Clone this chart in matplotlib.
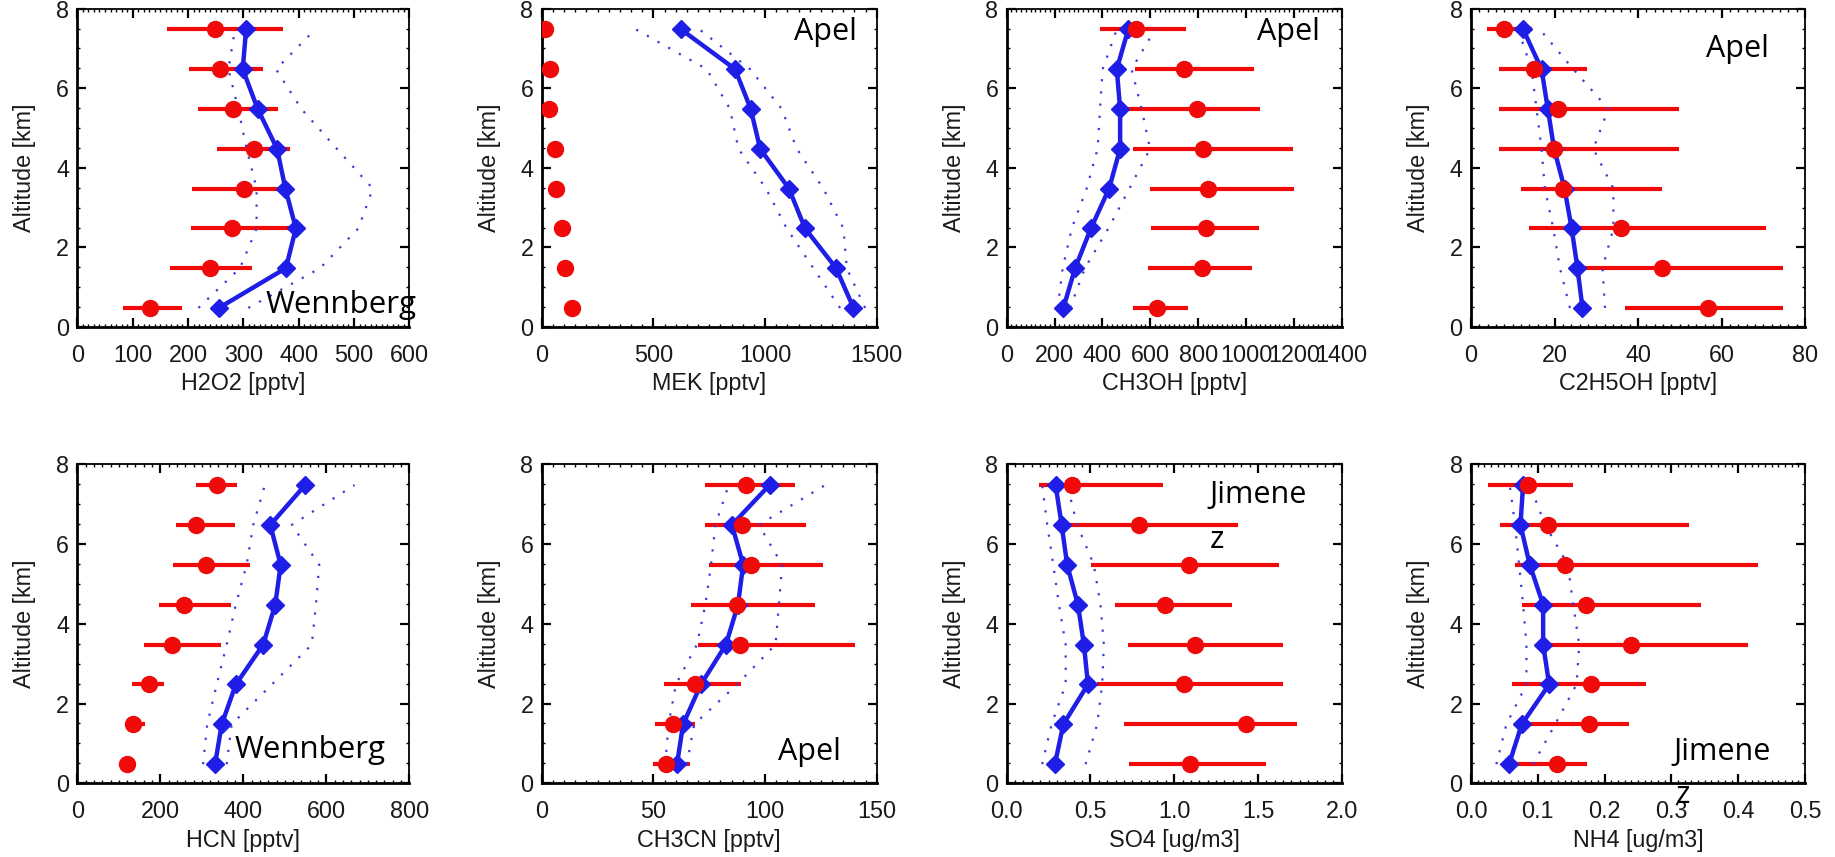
import matplotlib
matplotlib.use("Agg")
import matplotlib.pyplot as plt
from matplotlib.ticker import MultipleLocator, AutoMinorLocator, FormatStrFormatter

W, H = 1835, 857

altitude = [0.48, 1.48, 2.48, 3.48, 4.48, 5.48, 6.48, 7.48]

# ---------------- H2O2 ----------------
h2o2_obs = [131, 239, 279, 302, 319, 281, 258, 249]
h2o2_obs_lo = [83, 167, 205, 208, 252, 219, 202, 163]
h2o2_obs_hi = [190, 315, 404, 389, 384, 363, 335, 372]
h2o2_mod = [256, 377, 395, 376, 361, 326, 299, 305]
h2o2_mod_lo = [219, 294, 324, 324, 306, 291, 273, 285]
h2o2_mod_hi = [309, 439, 508, 534, 469, 405, 359, 430]

# ---------------- MEK ----------------
mek_obs = [134, 104, 90, 64, 60, 34, 37, 15]
mek_obs_lo = [134, 104, 90, 64, 60, 34, 37, 15]
mek_obs_hi = [134, 104, 90, 64, 60, 34, 37, 15]
mek_mod = [1396, 1318, 1179, 1107, 978, 936, 866, 624]
mek_mod_lo = [1336, 1216, 1097, 1004, 881, 843, 739, 422]
mek_mod_hi = [1448, 1366, 1351, 1261, 1142, 1075, 933, 706]

# ---------------- CH3OH ----------------
ch3oh_obs = [630, 815, 832, 843, 822, 794, 741, 540]
ch3oh_obs_lo = [527, 589, 603, 599, 529, 494, 536, 390]
ch3oh_obs_hi = [756, 1024, 1056, 1201, 1198, 1059, 1035, 748]
ch3oh_mod = [237, 286, 352, 428, 474, 474, 460, 508]
ch3oh_mod_lo = [213, 234, 272, 334, 380, 390, 401, 460]
ch3oh_mod_hi = [265, 327, 425, 513, 599, 564, 522, 620]

# ---------------- C2H5OH ----------------
c2h5oh_obs = [56.8, 45.8, 35.9, 22.0, 19.9, 20.9, 15.1, 8.0]
c2h5oh_obs_lo = [36.9, 24.0, 13.9, 11.9, 6.8, 6.8, 6.8, 3.8]
c2h5oh_obs_hi = [74.7, 74.7, 70.7, 45.7, 49.8, 49.8, 27.7, 14.5]
c2h5oh_mod = [26.7, 25.5, 24.1, 22.4, 19.9, 18.4, 16.9, 12.5]
c2h5oh_mod_lo = [23.7, 21.3, 19.7, 17.7, 16.9, 15.7, 14.5, 11.3]
c2h5oh_mod_hi = [32.1, 31.5, 34.1, 34.1, 29.3, 32.9, 24.5, 16.5]

# ---------------- HCN ----------------
hcn_obs = [120, 134, 172, 229, 257, 309, 286, 336]
hcn_obs_lo = [120, 122, 132, 160, 196, 231, 239, 287]
hcn_obs_hi = [120, 163, 209, 347, 370, 417, 379, 386]
hcn_mod = [332, 348, 382, 448, 477, 490, 465, 549]
hcn_mod_lo = [303, 313, 336, 360, 382, 408, 424, 452]
hcn_mod_hi = [360, 372, 469, 565, 575, 583, 517, 668]

# ---------------- CH3CN ----------------
ch3cn_obs = [55.8, 58.8, 68.8, 89.0, 87.5, 93.9, 89.7, 91.7]
ch3cn_obs_lo = [49.8, 50.8, 54.9, 69.8, 67.0, 75.1, 73.0, 73.0]
ch3cn_obs_hi = [66.5, 68.5, 89.4, 140.3, 122.3, 126.1, 118.4, 113.4]
ch3cn_mod = [60.6, 63.3, 71.3, 82.5, 87.9, 90.2, 85.2, 102.0]
ch3cn_mod_lo = [55.3, 56.8, 60.1, 69.5, 73.3, 75.8, 77.8, 83.7]
ch3cn_mod_hi = [65.0, 68.3, 87.5, 104.7, 106.2, 107.7, 97.2, 127.0]

# ---------------- SO4 ----------------
so4_obs = [1.092, 1.428, 1.061, 1.122, 0.947, 1.090, 0.788, 0.387]
so4_obs_lo = [0.733, 0.703, 0.540, 0.723, 0.644, 0.506, 0.377, 0.193]
so4_obs_hi = [1.547, 1.736, 1.652, 1.648, 1.345, 1.627, 1.378, 0.933]
so4_mod = [0.288, 0.338, 0.485, 0.461, 0.425, 0.361, 0.328, 0.292]
so4_mod_lo = [0.212, 0.268, 0.352, 0.352, 0.312, 0.278, 0.242, 0.212]
so4_mod_hi = [0.471, 0.540, 0.570, 0.580, 0.560, 0.520, 0.421, 0.361]

# ---------------- NH4 ----------------
nh4_obs = [0.129, 0.176, 0.180, 0.240, 0.172, 0.141, 0.115, 0.085]
nh4_obs_lo = [0.048, 0.068, 0.062, 0.112, 0.076, 0.066, 0.044, 0.026]
nh4_obs_hi = [0.173, 0.237, 0.262, 0.415, 0.344, 0.429, 0.326, 0.153]
nh4_mod = [0.057, 0.076, 0.117, 0.108, 0.108, 0.088, 0.074, 0.078]
nh4_mod_lo = [0.038, 0.053, 0.083, 0.083, 0.078, 0.072, 0.066, 0.058]
nh4_mod_hi = [0.093, 0.126, 0.158, 0.162, 0.153, 0.145, 0.111, 0.088]

xlabels = ["H2O2 [pptv]", "MEK [pptv]", "CH3OH [pptv]", "C2H5OH [pptv]",
           "HCN [pptv]", "CH3CN [pptv]", "SO4 [ug/m3]", "NH4 [ug/m3]"]
xmax = [600, 1500, 1400, 80, 800, 150, 2.0, 0.5]
xstep = [100, 500, 200, 20, 200, 50, 0.5, 0.1]
xfmt = ["%d", "%d", "%d", "%d", "%d", "%d", "%.1f", "%.1f"]

panels = [
    (h2o2_obs, h2o2_obs_lo, h2o2_obs_hi, h2o2_mod, h2o2_mod_lo, h2o2_mod_hi),
    (mek_obs, mek_obs_lo, mek_obs_hi, mek_mod, mek_mod_lo, mek_mod_hi),
    (ch3oh_obs, ch3oh_obs_lo, ch3oh_obs_hi, ch3oh_mod, ch3oh_mod_lo, ch3oh_mod_hi),
    (c2h5oh_obs, c2h5oh_obs_lo, c2h5oh_obs_hi, c2h5oh_mod, c2h5oh_mod_lo, c2h5oh_mod_hi),
    (hcn_obs, hcn_obs_lo, hcn_obs_hi, hcn_mod, hcn_mod_lo, hcn_mod_hi),
    (ch3cn_obs, ch3cn_obs_lo, ch3cn_obs_hi, ch3cn_mod, ch3cn_mod_lo, ch3cn_mod_hi),
    (so4_obs, so4_obs_lo, so4_obs_hi, so4_mod, so4_mod_lo, so4_mod_hi),
    (nh4_obs, nh4_obs_lo, nh4_obs_hi, nh4_mod, nh4_mod_lo, nh4_mod_hi),
]

plt.rcParams['font.family'] = ['Liberation Sans', 'DejaVu Sans']

fig = plt.figure(figsize=(W / 100, H / 100), dpi=100)
fig.patch.set_facecolor('white')

col_left = [77.3, 541.7, 1006.7, 1471.0]
col_width = [332.0, 335.0, 335.0, 334.0]
row_top = [8.7, 464.3]
row_height = [318.3, 319.0]

RED = '#f00a0a'
BLUE = '#1e1ee6'
DOT = '#3a3ad8'

for i, (obs, lo, hi, mod, mlo, mhi) in enumerate(panels):
    r, c = divmod(i, 4)
    left = col_left[c] / W
    bottom = 1 - (row_top[r] + row_height[r]) / H
    ax = fig.add_axes([left, bottom, col_width[c] / W, row_height[r] / H])

    # observation error bars
    for a, l, h in zip(altitude, lo, hi):
        if h > l:
            ax.plot([l, h], [a, a], color=RED, lw=3.0, solid_capstyle='butt', zorder=2)
    # model range (dotted)
    ax.plot(mlo, altitude, color=DOT, lw=1.6, ls=(0, (1, 4.5)), zorder=3)
    ax.plot(mhi, altitude, color=DOT, lw=1.6, ls=(0, (1, 4.5)), zorder=3)
    # model mean
    ax.plot(mod, altitude, color=BLUE, lw=3.2, marker='D', ms=9, mec=BLUE, mfc=BLUE, zorder=4)
    # observation mean
    ax.plot(obs, altitude, ls='none', marker='o', ms=11.5, mfc=RED, mec=RED, zorder=5)

    ax.set_xlim(0, xmax[i])
    ax.set_ylim(0, 8)
    ax.xaxis.set_major_locator(MultipleLocator(xstep[i]))
    ax.xaxis.set_major_formatter(FormatStrFormatter(xfmt[i]))
    ax.xaxis.set_minor_locator(AutoMinorLocator(10))
    ax.yaxis.set_major_locator(MultipleLocator(2))
    ax.yaxis.set_minor_locator(MultipleLocator(0.5))
    ax.tick_params(which='both', direction='in', top=True, right=True, color='black')
    ax.tick_params(which='major', length=6.5, width=1.6, labelsize=16.8, labelcolor='#1a1a1a')
    ax.tick_params(which='minor', length=2.5, width=1.0)
    ax.tick_params(axis='x', which='major', pad=12)
    ax.tick_params(axis='y', which='major', pad=6)
    for side in ['left', 'bottom']:
        ax.spines[side].set_linewidth(2.0)
    for side in ['top', 'right']:
        ax.spines[side].set_linewidth(1.3)
    ax.set_xlabel(xlabels[i], fontsize=16.8, color='#1a1a1a', labelpad=4)
    ax.set_ylabel("Altitude [km]", fontsize=16.8, color='#1a1a1a', labelpad=14)

# source labels (figure pixel positions, baseline)
labels = [
    ("Wennberg", 266, 313, 22.5),
    ("Apel", 794, 40, 22),
    ("Apel", 1257, 40, 22),
    ("Apel", 1706, 57, 22),
    ("Wennberg", 235, 758, 22.5),
    ("Apel", 778, 760, 22),
    ("Jimene", 1209, 503, 22),
    ("z", 1210, 548, 22),
    ("Jimene", 1673, 760, 22),
    ("z", 1676, 803, 22),
]
for s, x, y, fs in labels:
    fig.text(x / W, 1 - y / H, s, fontsize=fs, family=['Open Sans', 'DejaVu Sans'],
             ha='left', va='baseline', color='black', zorder=10)

fig.savefig("out.png", dpi=100, facecolor='white')
